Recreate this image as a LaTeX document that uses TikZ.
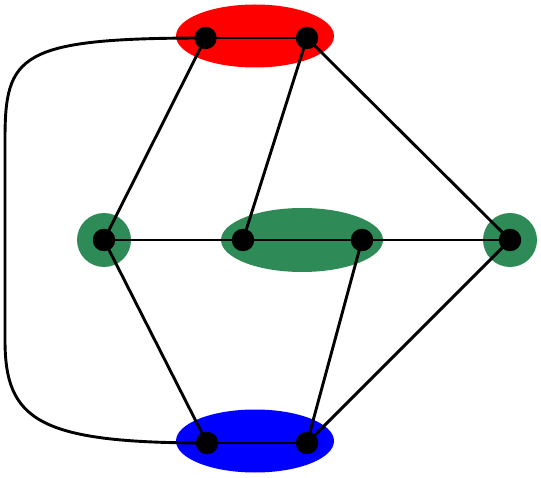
\documentclass[tikz,border=0pt]{standalone}
\usetikzlibrary{shapes.geometric}
\definecolor{sgreen}{RGB}{46,139,87}
\begin{document}
\begin{tikzpicture}[x=1pt,y=-1pt,
  region/.style={ellipse, inner sep=0pt},
  dot/.style={circle, fill=black, inner sep=0pt, minimum size=22.5pt},
  edge/.style={line width=2.9pt, black}]
\useasboundingbox (0,0) rectangle (541,478);
% regions
\node[region, fill=red, minimum width=158pt, minimum height=63pt] (R) at (255,36) {};
\node[region, fill=sgreen, minimum width=162pt, minimum height=64pt] (G) at (302,240) {};
\node[region, fill=sgreen, minimum width=54pt, minimum height=54pt] (GL) at (104,240) {};
\node[region, fill=sgreen, minimum width=54pt, minimum height=54pt] (GR) at (510,240) {};
\node[region, fill=blue, minimum width=158pt, minimum height=63pt] (B) at (255,441) {};
% dots
\coordinate (a) at (205.5,38);
\coordinate (b) at (307,38);
\coordinate (c) at (104,240);
\coordinate (d) at (243,240);
\coordinate (e) at (362,240);
\coordinate (f) at (510,240);
\coordinate (g) at (207,443);
\coordinate (h) at (307,443);
% edges
\draw[edge] (a) -- (b);
\draw[edge] (a) -- (c);
\draw[edge] (b) -- (d);
\draw[edge] (b) -- (f);
\draw[edge] (c) -- (d);
\draw[edge] (d) -- (e);
\draw[edge] (e) -- (f);
\draw[edge] (c) -- (g);
\draw[edge] (e) -- (h);
\draw[edge] (f) -- (h);
\draw[edge] (g) -- (h);
\draw[edge] (a) .. controls (18,38) and (5,55) .. (5,140) -- (5,340) .. controls (5,420) and (38,443) .. (g);
% dot nodes
\foreach \n in {a,b,c,d,e,f,g,h} \node[dot] (n\n) at (\n) {};
\end{tikzpicture}
\end{document}
